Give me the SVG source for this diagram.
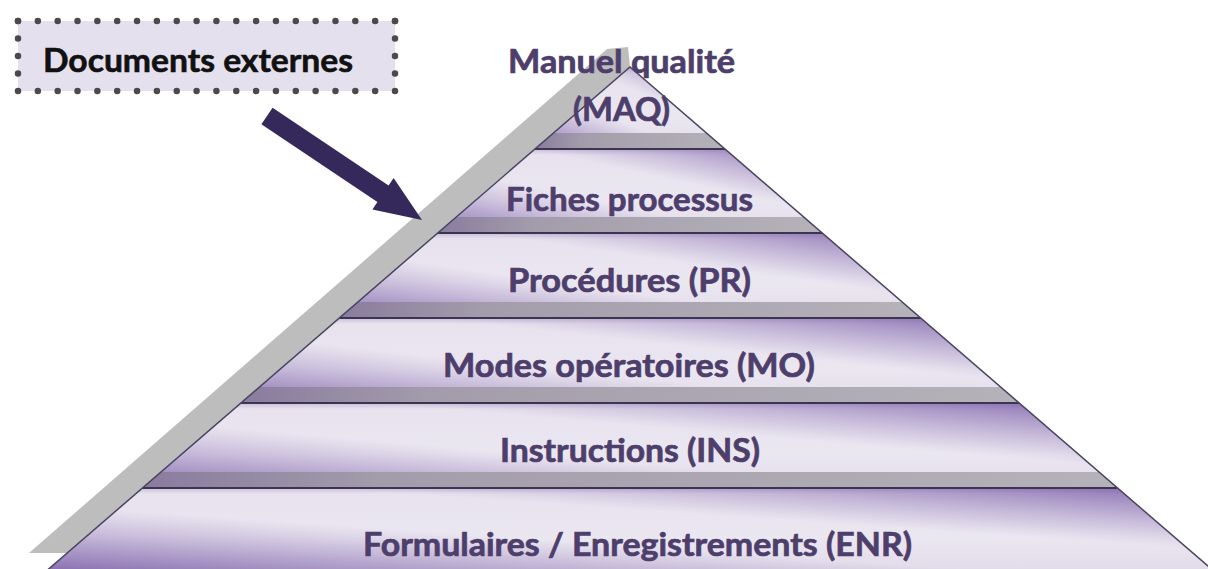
<svg xmlns="http://www.w3.org/2000/svg" width="1208" height="569" viewBox="0 0 1208 569">
  <style>
    .lvl { font-family: Lato, "Liberation Sans", sans-serif; font-weight: 700; font-size: 32.5px; fill: #4d3e6b; stroke: #4d3e6b; stroke-width: 0.7px; text-anchor: middle; }
    .doc { font-family: Lato, "Liberation Sans", sans-serif; font-weight: 700; font-size: 32px; fill: #111111; stroke: #111111; stroke-width: 0.6px; }
    .base { fill: url(#bandBase); }
    .shade { fill: url(#bandShade); }
    .strip { fill: url(#strip); }
    .divider { stroke: #3b3552; stroke-width: 2; fill: none; }
  </style>
  <defs>
    <linearGradient id="bandBase" x1="0" y1="0" x2="0" y2="1">
      <stop offset="0" stop-color="#c9bed9"/>
      <stop offset="0.07" stop-color="#e7e2ee"/>
      <stop offset="0.6" stop-color="#ebe7f1"/>
      <stop offset="1" stop-color="#e2dcea"/>
    </linearGradient>
    <linearGradient id="bandShade" x1="1" y1="0" x2="0" y2="1">
      <stop offset="0" stop-color="#7456a3" stop-opacity="0.85"/>
      <stop offset="0.18" stop-color="#7d60aa" stop-opacity="0.45"/>
      <stop offset="0.38" stop-color="#8a70b3" stop-opacity="0"/>
      <stop offset="0.6" stop-color="#8a70b3" stop-opacity="0"/>
      <stop offset="0.82" stop-color="#7d60aa" stop-opacity="0.45"/>
      <stop offset="1" stop-color="#7456a3" stop-opacity="0.8"/>
    </linearGradient>
    <linearGradient id="strip" x1="0" y1="0" x2="1" y2="0">
      <stop offset="0" stop-color="#8a7b9e"/>
      <stop offset="0.25" stop-color="#a39dab"/>
      <stop offset="1" stop-color="#b5b2b9"/>
    </linearGradient>
  </defs>

  <rect width="1208" height="569" fill="#ffffff"/>

  <!-- grey back face behind the left side of the pyramid -->
  <polygon id="back-face" points="29,553 607,49 628,47 630,67 68,553" fill="#bdbdbd"/>

  <g id="pyramid">
    <g id="level-maq">
      <polygon class="base" points="630,67 725,149 535,149"/>
      <polygon class="shade" points="630,67 725,149 535,149"/>
      <polygon class="strip" points="553.6,133 706.4,133 725,149 535,149"/>
    </g>
    <g id="level-fiches">
      <polygon class="base" points="535,149 725,149 822.2,233 437.8,233"/>
      <polygon class="shade" points="535,149 725,149 822.2,233 437.8,233"/>
      <polygon class="strip" points="456.3,217 803.7,217 822.2,233 437.8,233"/>
    </g>
    <g id="level-pr">
      <polygon class="base" points="437.8,233 822.2,233 920.7,318 339.3,318"/>
      <polygon class="shade" points="437.8,233 822.2,233 920.7,318 339.3,318"/>
      <polygon class="strip" points="357.9,302 902.1,302 920.7,318 339.3,318"/>
    </g>
    <g id="level-mo">
      <polygon class="base" points="339.3,318 920.7,318 1019.1,403 240.9,403"/>
      <polygon class="shade" points="339.3,318 920.7,318 1019.1,403 240.9,403"/>
      <polygon class="strip" points="259.4,387 1000.6,387 1019.1,403 240.9,403"/>
    </g>
    <g id="level-ins">
      <polygon class="base" points="240.9,403 1019.1,403 1117.5,488 142.5,488"/>
      <polygon class="shade" points="240.9,403 1019.1,403 1117.5,488 142.5,488"/>
      <polygon class="strip" points="161,472 1099,472 1117.5,488 142.5,488"/>
    </g>
    <g id="level-enr">
      <polygon class="base" points="142.5,488 1117.5,488 1212.5,570 47.5,570"/>
      <polygon class="shade" points="142.5,488 1117.5,488 1212.5,570 47.5,570"/>
    </g>

    <!-- level dividers and outline -->
    <line class="divider" x1="535" y1="149" x2="725" y2="149"/>
    <line class="divider" x1="437.8" y1="233" x2="822.2" y2="233"/>
    <line class="divider" x1="339.3" y1="318" x2="920.7" y2="318"/>
    <line class="divider" x1="240.9" y1="403" x2="1019.1" y2="403"/>
    <line class="divider" x1="142.5" y1="488" x2="1117.5" y2="488"/>
    <polyline points="47.5,570 630,67 1212.5,570" fill="none" stroke="#4a4460" stroke-width="1.5"/>

    <!-- level labels -->
    <text class="lvl" x="621.5" y="73" textLength="227" lengthAdjust="spacingAndGlyphs">Manuel qualité</text>
    <text class="lvl" x="621.5" y="121" textLength="97" lengthAdjust="spacingAndGlyphs">(MAQ)</text>
    <text class="lvl" x="629.5" y="211" textLength="247" lengthAdjust="spacingAndGlyphs">Fiches processus</text>
    <text class="lvl" x="629.5" y="292" textLength="243" lengthAdjust="spacingAndGlyphs">Procédures (PR)</text>
    <text class="lvl" x="629" y="377" textLength="372" lengthAdjust="spacingAndGlyphs">Modes opératoires (MO)</text>
    <text class="lvl" x="630" y="462" textLength="260" lengthAdjust="spacingAndGlyphs">Instructions (INS)</text>
    <text class="lvl" x="637.5" y="556" textLength="549" lengthAdjust="spacingAndGlyphs">Formulaires / Enregistrements (ENR)</text>
  </g>

  <g id="doc-externes">
    <rect x="18" y="21" width="377" height="70" fill="#e5e0ed"/>
    <g stroke="#4a4a4a" stroke-width="6.5" stroke-linecap="round" fill="none">
      <line x1="18" y1="21" x2="395" y2="21" stroke-dasharray="0 19.842"/>
      <line x1="18" y1="91" x2="395" y2="91" stroke-dasharray="0 19.842"/>
      <line x1="18" y1="21" x2="18" y2="91" stroke-dasharray="0 17.5"/>
      <line x1="395" y1="21" x2="395" y2="91" stroke-dasharray="0 17.5"/>
    </g>
    <text class="doc" x="43" y="72" textLength="310" lengthAdjust="spacingAndGlyphs">Documents externes</text>
  </g>

  <g id="connectors">
    <polygon id="arrow-doc-to-pyramid" points="272.6,107.7 388.6,185.5 393.6,178 422,220 372.4,209.6 377.4,202.1 261.4,124.3" fill="#35285a"/>
  </g>
</svg>
